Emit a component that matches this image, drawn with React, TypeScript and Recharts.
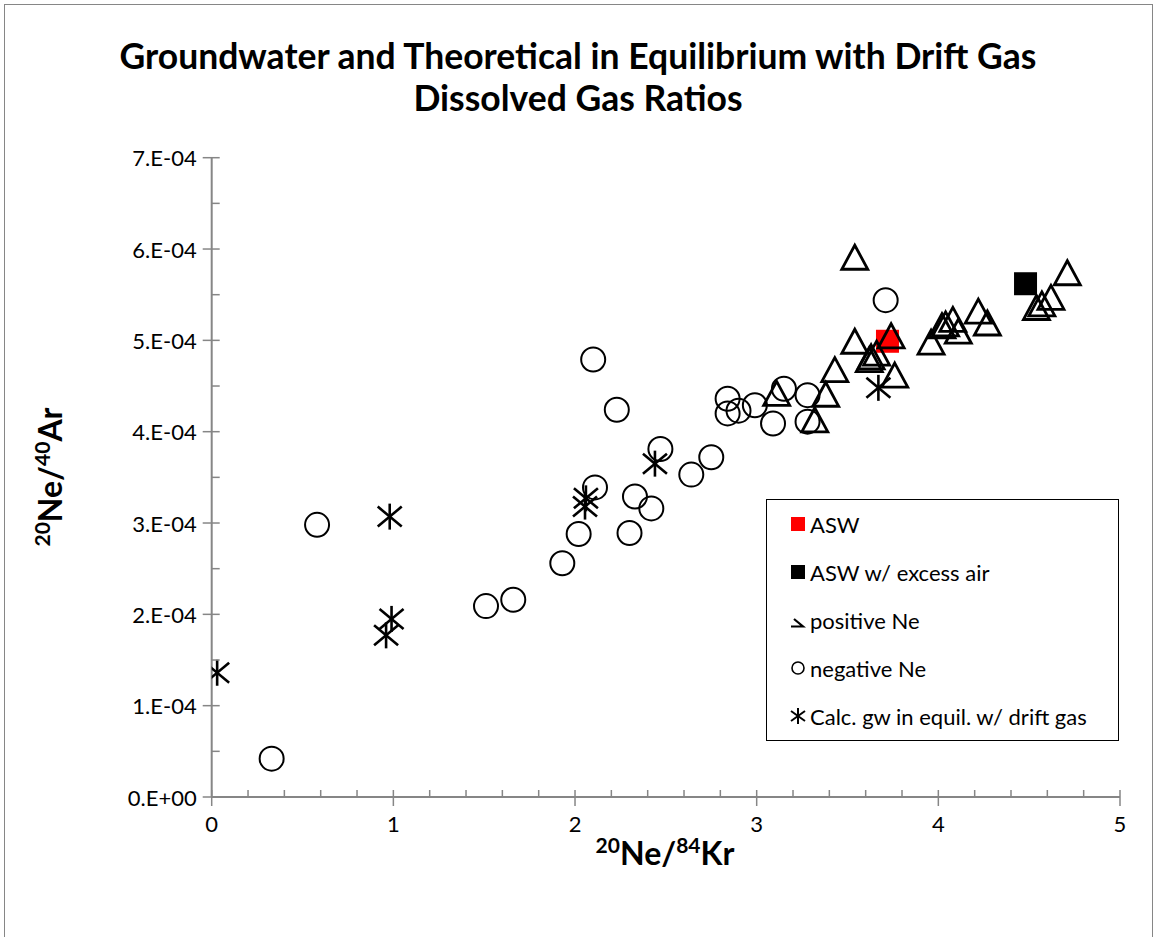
import React from 'react';
import { ScatterChart, Scatter, XAxis, YAxis } from 'recharts';

// 20Ne/84Kr (x) and 20Ne/40Ar (y)
const aswX = [3.72];
const aswY = [4.99e-4];

const excessAirX = [4.48];
const excessAirY = [5.62e-4];

const positiveNeX = [3.11, 3.32, 3.38, 3.43, 3.54, 3.54, 3.62, 3.63, 3.66, 3.74, 3.76, 3.96, 4.02, 4.04, 4.08, 4.11, 4.22, 4.27, 4.54, 4.57, 4.62, 4.71];
const positiveNeY = [4.42e-4, 4.13e-4, 4.41e-4, 4.68e-4, 5.91e-4, 4.99e-4, 4.79e-4, 4.82e-4, 4.86e-4, 5.05e-4, 4.62e-4, 4.98e-4, 5.16e-4, 5.18e-4, 5.23e-4, 5.1e-4, 5.32e-4, 5.19e-4, 5.36e-4, 5.4e-4, 5.47e-4, 5.74e-4];

const negativeNeX = [0.33, 0.58, 1.51, 1.66, 1.93, 2.02, 2.11, 2.1, 2.23, 2.3, 2.33, 2.42, 2.47, 2.64, 2.75, 2.84, 2.84, 2.9, 2.99, 3.09, 3.15, 3.28, 3.28, 3.71];
const negativeNeY = [0.42e-4, 2.98e-4, 2.09e-4, 2.16e-4, 2.56e-4, 2.88e-4, 3.39e-4, 4.79e-4, 4.24e-4, 2.89e-4, 3.29e-4, 3.16e-4, 3.81e-4, 3.53e-4, 3.72e-4, 4.36e-4, 4.2e-4, 4.23e-4, 4.29e-4, 4.09e-4, 4.47e-4, 4.4e-4, 4.11e-4, 5.44e-4];

const driftGasX = [0.03, 0.96, 0.99, 0.98, 2.055, 2.06, 2.44, 3.67];
const driftGasY = [1.36e-4, 1.77e-4, 1.95e-4, 3.07e-4, 3.18e-4, 3.27e-4, 3.65e-4, 4.48e-4];

const xTicks = [0, 0.2, 0.4, 0.6, 0.8, 1, 1.2, 1.4, 1.6, 1.8, 2, 2.2, 2.4, 2.6, 2.8, 3, 3.2, 3.4, 3.6, 3.8, 4, 4.2, 4.4, 4.6, 4.8, 5];
const yTicks = [0, 0.5e-4, 1e-4, 1.5e-4, 2e-4, 2.5e-4, 3e-4, 3.5e-4, 4e-4, 4.5e-4, 5e-4, 5.5e-4, 6e-4, 6.5e-4, 7e-4];

const legendLabels = ['ASW', 'ASW w/ excess air', 'positive Ne', 'negative Ne', 'Calc. gw in equil. w/ drift gas'];

const zip = (xs: number[], ys: number[]) => xs.map((x, i) => ({ x, y: ys[i] }));

const FONT = 'Lato, "Open Sans", sans-serif';
const AXIS = '#868686';

const isMajor = (v: number, step: number) => Math.abs(v / step - Math.round(v / step)) < 1e-6;

const XTick = ({ x, y, payload }: any) => {
  const major = isMajor(payload.value, 1);
  return (
    <g>
      <line x1={x} x2={x} y1={y - 7} y2={major ? y + 9 : y} stroke={AXIS} strokeWidth={1.5} />
      {major && (
        <text x={x} y={y + 26} textAnchor="middle" dominantBaseline="central" fontSize={22} fill="#000" fontFamily={FONT}>
          {Math.round(payload.value)}
        </text>
      )}
    </g>
  );
};

const yLabel = (v: number) => (v === 0 ? '0.E+00' : `${Math.round(v * 1e4)}.E-04`);

const YTick = ({ x, y, payload }: any) => {
  const major = isMajor(payload.value, 1e-4);
  return (
    <g>
      <line x1={major ? x - 9 : x} x2={x + 8} y1={y} y2={y} stroke={AXIS} strokeWidth={1.5} />
      {major && (
        <text x={x - 15} y={y} textAnchor="end" dominantBaseline="central" fontSize={22} fill="#000" fontFamily={FONT}>
          {yLabel(payload.value)}
        </text>
      )}
    </g>
  );
};

const Square = (color: string) => (p: any) => (
  <rect x={p.cx - 11.5} y={p.cy - 11.5} width={23} height={23} fill={color} />
);

const Triangle = (p: any) => (
  <path
    d={`M${p.cx} ${p.cy - 12} L${p.cx + 13} ${p.cy + 12} L${p.cx - 13} ${p.cy + 12} Z`}
    fill="none" stroke="#000" strokeWidth={2.8} strokeLinejoin="miter"
  />
);

const Circle = (p: any) => <circle cx={p.cx} cy={p.cy} r={12} fill="none" stroke="#000" strokeWidth={2} />;

const Star = (p: any) => (
  <g stroke="#000" strokeWidth={2.6}>
    <line x1={p.cx - 12} y1={p.cy - 10} x2={p.cx + 12} y2={p.cy + 10} />
    <line x1={p.cx - 12} y1={p.cy + 10} x2={p.cx + 12} y2={p.cy - 10} />
    <line x1={p.cx} y1={p.cy - 13} x2={p.cx} y2={p.cy + 13} />
  </g>
);

const legendIcons = [
  <svg width={16} height={16}><rect x={1} y={1} width={14} height={14} fill="#ff0000" /></svg>,
  <svg width={16} height={16}><rect x={1} y={1} width={14} height={14} fill="#000" /></svg>,
  <svg width={16} height={16}><path d="M4 7 L13 14.5 L1 14.5" fill="none" stroke="#000" strokeWidth={2.2} /></svg>,
  <svg width={16} height={16}><circle cx={8} cy={8} r={6} fill="none" stroke="#000" strokeWidth={1.6} /></svg>,
  <svg width={16} height={16} stroke="#000" strokeWidth={2}>
    <line x1={1} y1={3} x2={15} y2={13} /><line x1={1} y1={13} x2={15} y2={3} /><line x1={8} y1={0} x2={8} y2={16} />
  </svg>,
];

const supStyle = { fontSize: 21 };

export default function App() {
  return (
    <div style={{ position: 'absolute', left: 0, top: 0, width: 1156, height: 937, background: '#fff', overflow: 'hidden', fontFamily: FONT }}>
      <div style={{ position: 'absolute', left: 4, top: 4, width: 1147, height: 960, border: `1.5px solid ${AXIS}` }} />
      <div style={{ position: 'absolute', left: 0, top: 35, width: 1156, textAlign: 'center', fontSize: 35.5, fontWeight: 700, lineHeight: '42px', color: '#000' }}>
        Groundwater and Theoretical in Equilibrium with Drift Gas<br />Dissolved Gas Ratios
      </div>
      <div style={{ position: 'absolute', left: 0, top: 0 }}>
        <ScatterChart width={1156} height={937} margin={{ top: 157.7, right: 36, bottom: 100, left: 131.7 }}>
          <XAxis
            type="number" dataKey="x" domain={[0, 5]} ticks={xTicks} interval={0}
            height={40} tickSize={0} tickMargin={0} tick={<XTick />}
            axisLine={{ stroke: AXIS, strokeWidth: 2 }} allowDataOverflow
          />
          <YAxis
            type="number" dataKey="y" domain={[0, 7e-4]} ticks={yTicks} interval={0}
            width={80} tickSize={0} tickMargin={0} tick={<YTick />}
            axisLine={{ stroke: AXIS, strokeWidth: 2 }} allowDataOverflow
          />
          <Scatter name={legendLabels[0]} data={zip(aswX, aswY)} shape={Square('#ff0000')} isAnimationActive={false} />
          <Scatter name={legendLabels[1]} data={zip(excessAirX, excessAirY)} shape={Square('#000')} isAnimationActive={false} />
          <Scatter name={legendLabels[2]} data={zip(positiveNeX, positiveNeY)} shape={Triangle} isAnimationActive={false} />
          <Scatter name={legendLabels[3]} data={zip(negativeNeX, negativeNeY)} shape={Circle} isAnimationActive={false} />
          <Scatter name={legendLabels[4]} data={zip(driftGasX, driftGasY)} shape={Star} isAnimationActive={false} />
        </ScatterChart>
      </div>
      <div style={{ position: 'absolute', left: 665, top: 849, transform: 'translate(-50%, -50%)', fontSize: 32, fontWeight: 700, whiteSpace: 'nowrap', lineHeight: '36px' }}>
        <sup style={supStyle}>20</sup>Ne/<sup style={supStyle}>84</sup>Kr
      </div>
      <div style={{ position: 'absolute', left: 46, top: 477, transform: 'translate(-50%, -50%) rotate(-90deg)', fontSize: 32, fontWeight: 700, whiteSpace: 'nowrap', lineHeight: '36px' }}>
        <sup style={supStyle}>20</sup>Ne/<sup style={supStyle}>40</sup>Ar
      </div>
      <div style={{ position: 'absolute', left: 766, top: 499, width: 353, height: 242, border: '1.5px solid #000', background: '#fff', boxSizing: 'border-box', paddingTop: 0 }}>
        {legendLabels.map((label, i) => (
          <div key={label} style={{ display: 'flex', alignItems: 'center', height: 48, paddingLeft: 23, fontSize: 22, color: '#000', whiteSpace: 'nowrap' }}>
            <span style={{ display: 'inline-flex', width: 20 }}>{legendIcons[i]}</span>
            {label}
          </div>
        ))}
      </div>
    </div>
  );
}
